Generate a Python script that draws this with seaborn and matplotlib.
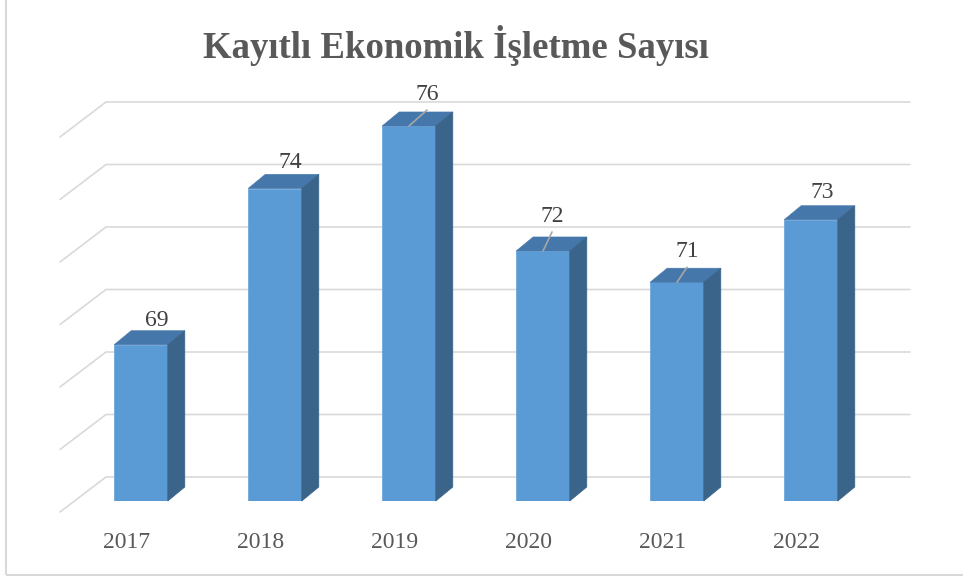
import numpy as np
import matplotlib
matplotlib.use('Agg')
import matplotlib.pyplot as plt
import seaborn as sns
from matplotlib.patches import Polygon, Rectangle

# Chart data
years = ['2017', '2018', '2019', '2020', '2021', '2022']
counts = [69, 74, 76, 72, 71, 73]
title = 'Kayıtlı Ekonomik İşletme Sayısı'

# value axis (hidden, but drives the gridlines)
y_min, y_max, y_step = 64, 76, 2

# layout / style (pixels)
bar_w = 0.4
depth = (17, 14)        # bar depth offset
back = (32, 24)         # back wall offset from bar plane
front = (-14, -11)      # front edge offset from bar plane
label_off = [(16, 24), (15, 26), (18, 32), (9, 35), (10, 31), (11, 27)]
leader = [False, False, True, True, True, False]

sns.set_style('white')
plt.rcParams['font.family'] = ['Liberation Serif', 'DejaVu Serif']

fig = plt.figure(figsize=(9.63, 5.79), dpi=100)
ax = fig.add_axes([74 / 963, (579 - 501) / 579, 804 / 963, 375 / 579])

sns.barplot(x=years, y=counts, ax=ax, width=bar_w, color='#5B9BD5',
            saturation=1, edgecolor='#6FA8DC', linewidth=0.6, zorder=3)
ax.set_xlim(-0.5, len(years) - 0.5)
ax.set_ylim(y_min, y_max)
ax.axis('off')


def shifted(x, y, off):
    p = ax.transData.transform((x, y)) + np.array(off)
    return ax.transData.inverted().transform(p)


grid_kw = dict(color='#D9D9D9', lw=1.2, zorder=1, clip_on=False)
for g in np.arange(y_min, y_max + 1, y_step):
    a = shifted(-0.5, g, front)
    b = shifted(-0.5, g, back)
    c = shifted(len(years) - 0.5, g, back)
    ax.plot([a[0], b[0], c[0]], [a[1], b[1], c[1]], **grid_kw)

for i, v in enumerate(counts):
    l, r = i - bar_w / 2, i + bar_w / 2
    top = [(l, v), (r, v), shifted(r, v, depth), shifted(l, v, depth)]
    side = [(r, y_min), (r, v), shifted(r, v, depth), shifted(r, y_min, depth)]
    ax.add_patch(Polygon(top, closed=True, facecolor='#4677AB', edgecolor='#4677AB',
                         lw=0.5, zorder=4, clip_on=False))
    ax.add_patch(Polygon(side, closed=True, facecolor='#3A6489', edgecolor='#3A6489',
                         lw=0.5, zorder=4, clip_on=False))

    dx, dy = label_off[i]
    ax.annotate(str(v), xy=(i, v), xytext=(dx, dy), textcoords='offset pixels',
                ha='center', va='center', fontsize=17, color='#404040',
                zorder=6, annotation_clip=False)
    if leader[i]:
        ax.annotate('', xy=(i, v), xytext=(dx, dy - 16), textcoords='offset pixels',
                    arrowprops=dict(arrowstyle='-', color='#A6A6A6', lw=1.2,
                                    shrinkA=0, shrinkB=0),
                    zorder=5, annotation_clip=False)

    ax.annotate(years[i], xy=(i, y_min), xytext=(-14, -42), textcoords='offset pixels',
                ha='center', va='center', fontsize=17, color='#595959',
                annotation_clip=False)

fig.text(456 / 963, 1 - 45 / 579, title, ha='center', va='center',
         fontsize=26.5, fontweight='bold', color='#595959')

# chart border
fig.patches.append(Rectangle((6 / 963, 4 / 579), 1.0, 1.0, transform=fig.transFigure,
                             fill=False, edgecolor='#D9D9D9', lw=1.5))

fig.savefig('out.png', dpi=100)
